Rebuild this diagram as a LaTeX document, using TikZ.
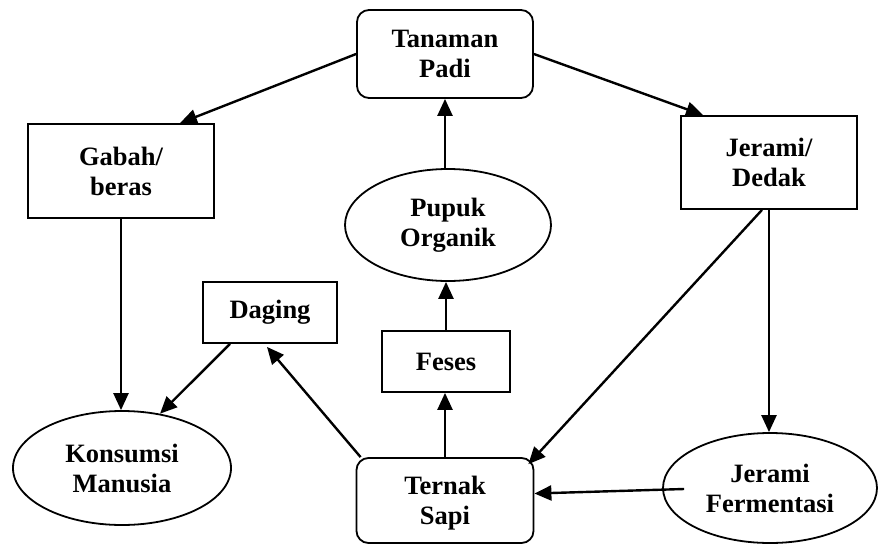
\documentclass[tikz,border=0pt]{standalone}
\usepackage{fontspec}
\setmainfont{Liberation Serif}
\usetikzlibrary{arrows.meta,shapes.geometric}
\begin{document}
\begin{tikzpicture}[x=1pt,y=-1pt,
  lbl/.style={draw, line width=1.8pt, font=\bfseries\fontsize{26.5}{30}\selectfont, align=center, inner sep=0pt},
  box/.style={lbl, rectangle},
  rbox/.style={lbl, rectangle, rounded corners=12pt},
  oval/.style={lbl, ellipse},
  arr/.style={line width=2.4pt, -{Triangle[length=17pt,width=15pt]}}]
\useasboundingbox (0,0) rectangle (880,546);

\node[rbox, minimum width=176pt, minimum height=88pt] (tanaman) at (445,54) {Tanaman\\Padi};
\node[box, minimum width=186pt, minimum height=94pt] (gabah) at (121,171) {Gabah/\\beras};
\node[box, minimum width=176pt, minimum height=93pt] (jerami) at (769,162.5) {Jerami/\\Dedak};
\node[oval, minimum width=206pt, minimum height=112pt] (pupuk) at (448,225) {Pupuk\\Organik};
\node[box, minimum width=134pt, minimum height=61pt] (daging) at (270,312.5) {Daging};
\node[box, minimum width=128pt, minimum height=61pt] (feses) at (446,361.5) {Feses};
\node[oval, minimum width=218pt, minimum height=114pt] (konsumsi) at (122,468) {Konsumsi\\Manusia};
\node[rbox, minimum width=177pt, minimum height=85pt, text depth=0pt] (ternak) at (445,500.5) {Ternak\\Sapi};
\node[oval, minimum width=214pt, minimum height=110pt] (ferment) at (770,488) {Jerami\\Fermentasi};

\draw[arr] (tanaman.west) -- ([xshift=59pt]gabah.north);
\draw[arr] (tanaman.east) -- ([xshift=-66pt]jerami.north);
\draw[arr] (pupuk.north -| tanaman.south) -- (tanaman.south);
\draw[arr] (gabah.south) -- (gabah.south |- konsumsi.north);
\draw[arr] ([xshift=-40pt]daging.south) -- (konsumsi.55);
\draw[arr] ([xshift=5pt]ternak.north west) -- ([xshift=-3pt,yshift=-3pt]daging.south);
\draw[arr] (ternak.north) -- (ternak.north |- feses.south);
\draw[arr] (feses.north) -- (feses.north |- pupuk.south);
\draw[arr] ([xshift=-7pt]jerami.south) -- ([xshift=-6pt,yshift=-7pt]ternak.north east);
\draw[arr] (jerami.south) -- (jerami.south |- ferment.north);
\draw[arr] ([xshift=22pt,yshift=-1pt]ferment.west) -- ([yshift=7pt]ternak.east);
\end{tikzpicture}
\end{document}
